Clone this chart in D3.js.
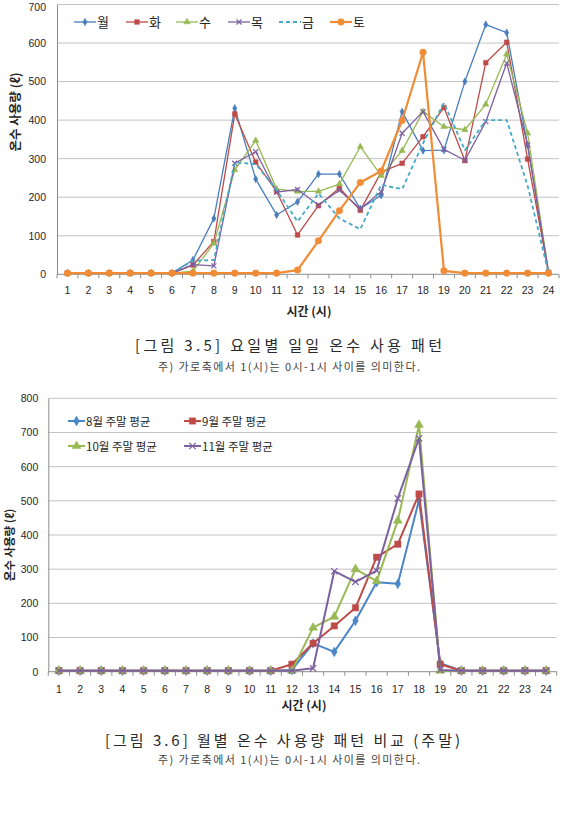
<!DOCTYPE html>
<html>
<head>
<meta charset="utf-8">
<script src="https://cdn.jsdelivr.net/npm/d3@7/dist/d3.min.js"></script>
<style>
  body { margin: 0; background: #fff; }
  svg { display: block; font-family: "Liberation Sans", "Noto Sans CJK KR", sans-serif; }
</style>
</head>
<body>
<svg id="page" width="564" height="815"></svg>
<script>
// hours on the x axis
let hours = ["1","2","3","4","5","6","7","8","9","10","11","12","13","14","15","16","17","18","19","20","21","22","23","24"];

// [그림 3.5] weekday daily pattern
let dayNames = ["월", "화", "수", "목", "금", "토"];
let monVals = [3,3,3,3,3,3,37,145,431,247,154,188,260,260,170,205,422,321,322,500,648,627,335,5];
let tueVals = [3,3,3,3,3,3,24,85,416,291,215,102,178,224,166,265,288,357,433,295,549,602,299,5];
let wedVals = [3,3,3,3,3,3,8,80,271,347,221,215,215,234,331,256,321,422,383,375,441,571,366,5];
let thuVals = [3,3,3,3,3,3,25,22,288,318,213,220,180,218,170,214,366,422,324,296,396,548,336,5];
let friVals = [3,3,3,3,3,3,35,37,290,286,219,137,210,145,117,232,221,340,445,322,400,400,230,3];
let satVals = [3,3,3,3,3,3,3,3,3,3,3,11,87,165,238,268,399,576,9,3,3,3,3,3];
let topTicks = [0,100,200,300,400,500,600,700];

// [그림 3.6] weekend monthly averages
let monthNames = ["8월 주말 평균", "9월 주말 평균", "10월 주말 평균", "11월 주말 평균"];
let augVals = [3,3,3,3,3,3,3,3,3,3,3,5,83,58,149,262,257,502,25,3,3,3,3,3];
let sepVals = [3,3,3,3,3,3,3,3,3,3,3,22,83,134,187,335,373,520,22,3,3,3,3,3];
let octVals = [3,3,3,3,3,3,3,3,3,3,3,3,129,161,300,265,442,722,3,3,3,3,3,3];
let novVals = [3,3,3,3,3,3,3,3,3,3,3,3,10,294,263,296,507,683,5,3,3,3,3,3];
let bottomTicks = [0,100,200,300,400,500,600,700,800];

let blue = "#4a7ebb", red = "#be4b48", green = "#98b954", purple = "#7d60a0",
    cyan = "#46aac5", orange = "#f08c35";

let svg = d3.select("#page");

function drawChart(cfg) {
  let g = svg.append("g");
  let x = d3.scaleBand().domain(hours).range([cfg.left, cfg.right]);
  let y = d3.scaleLinear().domain([0, cfg.max]).range([cfg.bottom, cfg.top]);

  // gridlines
  g.selectAll(".grid").data(cfg.ticks).enter().append("line")
    .attr("x1", cfg.left).attr("x2", cfg.right)
    .attr("y1", d => y(d)).attr("y2", d => y(d))
    .attr("stroke", d => d === 0 ? "#8c8c8c" : "#c3c3c3").attr("stroke-width", 1);

  // y axis
  let yAxis = g.append("g").attr("transform", `translate(${cfg.left},0)`)
    .call(d3.axisLeft(y).tickValues(cfg.ticks).tickSize(0).tickPadding(cfg.yPad));
  yAxis.select(".domain").attr("stroke", "#8c8c8c");
  yAxis.selectAll("text").attr("font-size", 10.5).attr("fill", "#262626");
  // keep the top label inside the page
  yAxis.selectAll(".tick").filter(d => y(d) < 7).select("text").attr("y", 7 - y(cfg.max));

  // x axis, ticks between categories
  let xAxis = g.append("g").attr("transform", `translate(0,${cfg.bottom})`)
    .call(d3.axisBottom(x).tickSize(0).tickPadding(cfg.xPad));
  xAxis.select(".domain").remove();
  xAxis.selectAll("text").attr("font-size", 10.5).attr("fill", "#262626");
  g.selectAll(".xt").data(d3.range(hours.length + 1)).enter().append("line")
    .attr("x1", i => cfg.left + i * x.step()).attr("x2", i => cfg.left + i * x.step())
    .attr("y1", cfg.bottom).attr("y2", cfg.bottom + 4)
    .attr("stroke", "#8c8c8c");

  // axis titles
  g.append("text").attr("transform", `translate(${cfg.yTitleX},${cfg.yTitleY}) rotate(-90)`)
    .attr("text-anchor", "middle").attr("font-size", cfg.titleFont).attr("font-weight", "bold")
    .attr("font-family", "Noto Sans CJK KR").attr("fill", "#262626")
    .text("온수 사용량 (ℓ)");
  g.append("text").attr("x", cfg.xTitleX).attr("y", cfg.xTitleY)
    .attr("text-anchor", "middle").attr("font-size", 12).attr("font-weight", "bold")
    .attr("font-family", "Noto Sans CJK KR").attr("fill", "#262626")
    .text("시간 (시)");

  let line = d3.line().x((d, i) => x(hours[i]) + x.bandwidth() / 2).y(d => y(d));

  cfg.series.forEach(function (s) {
    g.append("path").datum(s.values)
      .attr("d", line).attr("fill", "none")
      .attr("stroke", s.color).attr("stroke-width", s.width)
      .attr("stroke-dasharray", s.dash || null)
      .attr("stroke-linejoin", "round");
    if (s.symbol) {
      g.selectAll(null).data(s.values).enter().append("path")
        .attr("transform", (d, i) => `translate(${x(hours[i]) + x.bandwidth() / 2},${y(d)})`)
        .attr("d", d3.symbol().type(s.symbol).size(s.size))
        .attr("fill", s.symbol === d3.symbolTimes ? "none" : s.color)
        .attr("stroke", s.color).attr("stroke-width", s.symbol === d3.symbolTimes ? 1.2 : 0.5);
    }
  });

  // legend
  cfg.series.forEach(function (s, i) {
    let lx = cfg.legend[i][0], ly = cfg.legend[i][1];
    g.append("line").attr("x1", lx).attr("x2", lx + cfg.legendLen)
      .attr("y1", ly).attr("y2", ly)
      .attr("stroke", s.color).attr("stroke-width", s.width)
      .attr("stroke-dasharray", s.dash || null);
    if (s.symbol) {
      g.append("path").attr("transform", `translate(${lx + cfg.legendLen / 2},${ly})`)
        .attr("d", d3.symbol().type(s.symbol).size(s.size))
        .attr("fill", s.symbol === d3.symbolTimes ? "none" : s.color)
        .attr("stroke", s.color).attr("stroke-width", s.symbol === d3.symbolTimes ? 1.2 : 0.5);
    }
    g.append("text").attr("x", lx + cfg.legendLen + 1).attr("y", ly + 4.5)
      .attr("font-size", cfg.legendFont).attr("font-family", "Noto Sans CJK KR")
      .attr("fill", "#262626").text(s.name);
  });
}

drawChart({
  left: 57, right: 559, top: 4.5, bottom: 274.3, max: 700, ticks: topTicks,
  yPad: 11, xPad: 12,
  yTitleX: 20, yTitleY: 112, xTitleX: 309, xTitleY: 316, titleFont: 12.5,
  legendLen: 22, legendFont: 13,
  legend: [[74, 22], [126, 22], [176, 22], [228, 22], [279, 22], [330, 22]],
  series: [
    { name: dayNames[0], values: monVals, color: blue, width: 1.3, symbol: d3.symbolDiamond, size: 16 },
    { name: dayNames[1], values: tueVals, color: red, width: 1.3, symbol: d3.symbolSquare, size: 22 },
    { name: dayNames[2], values: wedVals, color: green, width: 1.3, symbol: d3.symbolTriangle, size: 18 },
    { name: dayNames[3], values: thuVals, color: purple, width: 1.3, symbol: d3.symbolTimes, size: 18 },
    { name: dayNames[4], values: friVals, color: cyan, width: 1.8, dash: "4,3" },
    { name: dayNames[5], values: satVals, color: orange, width: 2.2, symbol: d3.symbolCircle, size: 34 }
  ]
});

drawChart({
  left: 48.3, right: 556.7, top: 398.3, bottom: 671.7, max: 800, ticks: bottomTicks,
  yPad: 10, xPad: 14,
  yTitleX: 14, yTitleY: 545, xTitleX: 304, xTitleY: 710, titleFont: 11.5,
  legendLen: 17, legendFont: 11.5,
  legend: [[68, 421], [184, 421], [68, 446], [184, 446]],
  series: [
    { name: monthNames[0], values: augVals, color: "#4a86c8", width: 2, symbol: d3.symbolDiamond, size: 28 },
    { name: monthNames[1], values: sepVals, color: red, width: 2, symbol: d3.symbolSquare, size: 40 },
    { name: monthNames[2], values: octVals, color: green, width: 2, symbol: d3.symbolTriangle, size: 34 },
    { name: monthNames[3], values: novVals, color: purple, width: 2, symbol: d3.symbolTimes, size: 28 }
  ]
});

// captions
let captions = [
  { text: "[그림 3.5] 요일별 일일 온수 사용 패턴", x: 288.5, y: 351, size: 15, len: 307 },
  { text: "주) 가로축에서 1(시)는 0시-1시 사이를 의미한다.", x: 289, y: 371, size: 11, len: 262 },
  { text: "[그림 3.6] 월별 온수 사용량 패턴 비교 (주말)", x: 282.5, y: 746, size: 15, len: 355 },
  { text: "주) 가로축에서 1(시)는 0시-1시 사이를 의미한다.", x: 289, y: 764, size: 11, len: 262 }
];
svg.selectAll(".cap").data(captions).enter().append("text")
  .attr("x", d => d.x).attr("y", d => d.y)
  .attr("text-anchor", "middle")
  .attr("font-family", "Noto Sans CJK KR")
  .attr("font-size", d => d.size)
  .attr("fill", d => d.size > 12 ? "#2a2a2a" : "#444")
  .attr("textLength", d => d.len).attr("lengthAdjust", "spacing")
  .text(d => d.text);
</script>
</body>
</html>
